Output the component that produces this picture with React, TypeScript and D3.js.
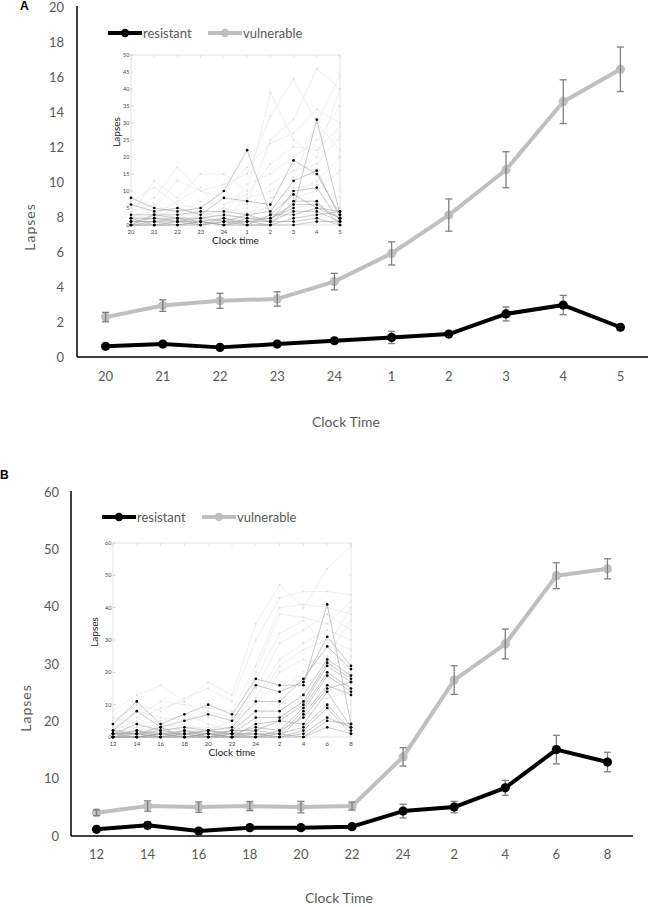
import React from "react";
import * as d3 from "d3";

// ---------- Panel A data ----------
const TIMES_A = ["20", "21", "22", "23", "24", "1", "2", "3", "4", "5"];
const RES_A_MEAN = [0.61, 0.74, 0.55, 0.74, 0.93, 1.12, 1.31, 2.46, 2.97, 1.7];
const RES_A_SE = [0.1, 0.1, 0.08, 0.1, 0.12, 0.35, 0.12, 0.4, 0.55, 0.1];
const VUL_A_MEAN = [2.28, 2.94, 3.21, 3.32, 4.31, 5.92, 8.11, 10.7, 14.59, 16.44];
const VUL_A_SE = [0.27, 0.33, 0.43, 0.41, 0.47, 0.66, 0.92, 1.03, 1.25, 1.27];
const Y_TICKS_A = [0, 2, 4, 6, 8, 10, 12, 14, 16, 18, 20];

// Inset A: individual subjects
const INSET_A_RES = [
  [8, 5, 4, 5, 10, 22, 3, 9, 5, 4],
  [6, 4, 5, 3, 8, 7, 6, 19, 15, 3],
  [3, 3, 3, 4, 4, 3, 4, 13, 16, 2],
  [2, 2, 2, 2, 3, 2, 2, 5, 31, 3],
  [1, 1, 1, 1, 2, 1, 1, 10, 11, 1],
  [0, 0, 0, 0, 1, 0, 0, 7, 7, 0],
  [1, 2, 1, 2, 1, 1, 2, 6, 6, 2],
  [0, 1, 0, 1, 0, 2, 1, 4, 4, 1],
  [2, 0, 1, 0, 2, 0, 3, 3, 5, 2],
  [0, 3, 2, 1, 0, 1, 0, 2, 3, 4],
  [1, 1, 2, 0, 1, 3, 1, 1, 2, 0],
  [0, 0, 0, 1, 0, 0, 0, 0, 1, 1],
];
const INSET_A_VUL = [
  [3, 13, 8, 15, 15, 10, 39, 25, 20, 40],
  [5, 8, 17, 10, 12, 15, 32, 43, 30, 44],
  [2, 5, 13, 10, 8, 6, 25, 31, 46, 40],
  [7, 11, 6, 5, 10, 17, 24, 27, 34, 30],
  [1, 3, 7, 11, 3, 12, 15, 20, 25, 35],
  [4, 6, 3, 7, 6, 9, 18, 23, 22, 29],
  [2, 2, 5, 3, 4, 5, 12, 16, 18, 26],
  [3, 4, 2, 4, 2, 8, 10, 14, 30, 22],
  [1, 1, 2, 2, 5, 3, 8, 9, 13, 20],
  [0, 2, 1, 1, 2, 4, 5, 8, 10, 16],
  [2, 3, 4, 2, 3, 2, 6, 11, 12, 8],
  [1, 0, 1, 3, 1, 1, 3, 5, 6, 5],
];
const INSET_Y_TICKS_A = [0, 5, 10, 15, 20, 25, 30, 35, 40, 45, 50];

// ---------- Panel B data ----------
const TIMES_B = ["12", "14", "16", "18", "20", "22", "24", "2", "4", "6", "8"];
const RES_B_MEAN = [1.16, 1.86, 0.87, 1.45, 1.45, 1.62, 4.35, 5.04, 8.4, 15.07, 12.9];
const RES_B_SE = [0.4, 0.6, 0.4, 0.5, 0.5, 0.4, 1.2, 1.0, 1.3, 2.5, 1.7];
const VUL_B_MEAN = [4.06, 5.22, 5.04, 5.22, 5.04, 5.22, 13.8, 27.2, 33.5, 45.4, 46.6];
const VUL_B_SE = [0.5, 0.9, 0.9, 0.8, 1.0, 0.7, 1.6, 2.5, 2.6, 2.25, 1.75];
const Y_TICKS_B = [0, 10, 20, 30, 40, 50, 60];

const INSET_B_RES = [
  [4, 11, 4, 7, 10, 7, 18, 16, 16, 41, 4],
  [2, 8, 3, 5, 7, 5, 16, 14, 17, 31, 22],
  [1, 4, 2, 3, 2, 3, 11, 11, 18, 28, 21],
  [0, 2, 1, 2, 1, 2, 8, 8, 13, 24, 19],
  [1, 1, 0, 1, 0, 1, 6, 6, 11, 23, 18],
  [0, 0, 1, 0, 1, 0, 4, 5, 10, 22, 17],
  [2, 1, 2, 1, 2, 1, 3, 2, 9, 20, 15],
  [1, 2, 0, 2, 0, 2, 2, 1, 8, 19, 14],
  [0, 1, 3, 0, 1, 0, 1, 0, 7, 16, 13],
  [1, 0, 1, 1, 2, 1, 0, 2, 6, 15, 17],
  [0, 0, 0, 0, 0, 0, 2, 5, 4, 14, 3],
  [1, 1, 1, 1, 1, 1, 1, 1, 3, 10, 2],
  [0, 0, 0, 0, 0, 0, 0, 0, 2, 9, 1],
  [0, 0, 1, 0, 0, 1, 1, 0, 1, 6, 3],
  [1, 1, 0, 1, 0, 0, 0, 1, 0, 5, 4],
  [0, 0, 0, 0, 1, 0, 0, 0, 0, 3, 1],
];
const INSET_B_VUL = [
  [8, 13, 16, 11, 17, 13, 35, 47, 40, 52, 59],
  [5, 10, 8, 12, 15, 11, 30, 43, 45, 45, 44],
  [3, 6, 11, 10, 9, 8, 22, 40, 41, 40, 38],
  [2, 5, 9, 11, 6, 4, 20, 38, 37, 35, 42],
  [6, 4, 5, 7, 4, 2, 18, 32, 36, 28, 40],
  [1, 3, 4, 3, 3, 3, 15, 29, 33, 38, 33],
  [4, 8, 6, 5, 8, 6, 12, 24, 29, 33, 30],
  [2, 2, 3, 2, 2, 5, 10, 22, 27, 30, 27],
  [0, 1, 2, 1, 1, 1, 8, 20, 24, 22, 25],
  [3, 3, 1, 4, 2, 3, 5, 14, 20, 25, 36],
  [1, 0, 0, 0, 0, 0, 4, 10, 15, 19, 20],
  [2, 1, 2, 3, 1, 2, 2, 6, 11, 12, 14],
];
const INSET_Y_TICKS_B = [0, 10, 20, 30, 40, 50, 60];

const LEGEND_LABELS = ["resistant", "vulnerable"];

const FONT = "Lato, 'Open Sans', sans-serif";
const TXT = "#595959";
const VUL_COLOR = "#bfbfbf";
const RES_COLOR = "#000000";
const ERR_COLOR = "#7f7f7f";

type InsetProps = {
  times: string[];
  res: number[][];
  vul: number[][];
  yTicks: number[];
  x0: number;
  x1: number;
  yTop: number;
  yBot: number;
  lapsesX: number;
};

function Inset({ times, res, vul, yTicks, x0, x1, yTop, yBot, lapsesX }: InsetProps) {
  const x = d3.scalePoint<string>().domain(times).range([x0, x1]).padding(0);
  const yMax = yTicks[yTicks.length - 1];
  const y = d3.scaleLinear().domain([0, yMax]).range([yBot, yTop]);
  const line = d3
    .line<number>()
    .x((_, i) => x(times[i]) as number)
    .y((v) => y(v));
  return (
    <g>
      <rect x={x0} y={yTop} width={x1 - x0} height={yBot - yTop} fill="#fff" stroke="#d6d6d6" strokeWidth={0.7} />
      {yTicks.map((t) => (
        <g key={"yt" + t}>
          <line x1={x0} x2={x0 + 2.5} y1={y(t)} y2={y(t)} stroke="#bbb" strokeWidth={0.6} />
          <line x1={x1} x2={x1 - 2.5} y1={y(t)} y2={y(t)} stroke="#ddd" strokeWidth={0.6} />
          <text x={x0 - 1.5} y={y(t) + 2} fontSize={5.5} fill="#444" textAnchor="end" fontFamily={FONT}>
            {t}
          </text>
        </g>
      ))}
      {times.map((t) => (
        <g key={"xt" + t}>
          <line x1={x(t)} x2={x(t)} y1={yTop} y2={yTop + 2.5} stroke="#ccc" strokeWidth={0.6} />
          <line x1={x(t)} x2={x(t)} y1={yBot} y2={yBot - 2.5} stroke="#ccc" strokeWidth={0.6} />
          <text x={x(t)} y={yBot + 9} fontSize={6} fill="#444" textAnchor="middle" fontFamily={FONT}>
            {t}
          </text>
        </g>
      ))}
      {vul.map((s, i) => (
        <g key={"v" + i}>
          <path d={line(s) || ""} fill="none" stroke="#e9e9e9" strokeWidth={0.7} />
          {s.map((v, j) => (
            <circle key={j} cx={x(times[j])} cy={y(v)} r={1} fill="#dedede" />
          ))}
        </g>
      ))}
      {res.map((s, i) => (
        <path key={"rl" + i} d={line(s) || ""} fill="none" stroke="#a3a3a3" strokeWidth={0.6} />
      ))}
      {res.map((s, i) => (
        <g key={"rd" + i}>
          {s.map((v, j) => (
            <circle key={j} cx={x(times[j])} cy={y(v)} r={1.35} fill="#000" />
          ))}
        </g>
      ))}
      <text x={(x0 + x1) / 2} y={yBot + 19} fontSize={10} fill="#222" textAnchor="middle" fontFamily={FONT}>
        Clock time
      </text>
      <text
        transform={`translate(${lapsesX},${(yTop + yBot) / 2 - 8}) rotate(-90)`}
        fontSize={10}
        fill="#222"
        textAnchor="middle"
        fontFamily={FONT}
      >
        Lapses
      </text>
    </g>
  );
}

type PanelProps = {
  letter: string;
  letterX: number;
  letterY: number;
  times: string[];
  resMean: number[];
  resSE: number[];
  vulMean: number[];
  vulSE: number[];
  yTicks: number[];
  axisX: number;
  axisXEnd: number;
  y0: number;
  yTopPx: number;
  tickLabelRight: number;
  xLabelY: number;
  titleX: number;
  titleY: number;
  lapsesX: number;
  lapsesY: number;
  legendX: number;
  legendY: number;
  inset: InsetProps;
};

function Panel(p: PanelProps) {
  const x = d3.scalePoint<string>().domain(p.times).range([p.axisX, p.axisXEnd]).padding(0.5);
  const yMax = p.yTicks[p.yTicks.length - 1];
  const y = d3.scaleLinear().domain([0, yMax]).range([p.y0, p.yTopPx]);
  const line = d3
    .line<number>()
    .x((_, i) => x(p.times[i]) as number)
    .y((v) => y(v));
  const series = [
    { mean: p.vulMean, se: p.vulSE, color: VUL_COLOR, barsOnTop: true },
    { mean: p.resMean, se: p.resSE, color: RES_COLOR, barsOnTop: false },
  ];
  const legendItems = [
    { label: LEGEND_LABELS[0], color: RES_COLOR, dx: 0 },
    { label: LEGEND_LABELS[1], color: VUL_COLOR, dx: 100 },
  ];
  const errBars = (mean: number[], se: number[]) =>
    mean.map((v, j) => {
      const cx = x(p.times[j]) as number;
      const yt = y(v + se[j]);
      const yb = y(v - se[j]);
      return (
        <g key={"eb" + j} stroke={ERR_COLOR} strokeWidth={1.3}>
          <line x1={cx} x2={cx} y1={yt} y2={yb} />
          <line x1={cx - 3.5} x2={cx + 3.5} y1={yt} y2={yt} />
          <line x1={cx - 3.5} x2={cx + 3.5} y1={yb} y2={yb} />
        </g>
      );
    });
  return (
    <g>
      <text x={p.letterX} y={p.letterY} fontSize={12} fontWeight="bold" fill="#000" fontFamily="Arial, 'Liberation Sans', sans-serif">
        {p.letter}
      </text>
      {/* axes */}
      <line x1={p.axisX} x2={p.axisX} y1={p.y0} y2={p.yTopPx - 1} stroke="#000" strokeWidth={1.5} />
      <line x1={p.axisX} x2={p.axisXEnd} y1={p.y0} y2={p.y0} stroke="#000" strokeWidth={1.5} />
      {p.yTicks.map((t) => (
        <text key={t} x={p.tickLabelRight} y={y(t) + 4.5} fontSize={13} fill={TXT} textAnchor="end" fontFamily={FONT}>
          {t}
        </text>
      ))}
      {p.times.map((t) => (
        <text key={t} x={x(t)} y={p.xLabelY} fontSize={13} fill={TXT} textAnchor="middle" fontFamily={FONT}>
          {t}
        </text>
      ))}
      <text x={p.titleX} y={p.titleY} fontSize={14} fill={TXT} textAnchor="middle" fontFamily={FONT}>
        Clock Time
      </text>
      <text
        transform={`translate(${p.lapsesX},${p.lapsesY}) rotate(-90)`}
        fontSize={14}
        fill={TXT}
        textAnchor="middle"
        letterSpacing={1}
        fontFamily={FONT}
      >
        Lapses
      </text>
      {/* legend */}
      {legendItems.map((it) => (
        <g key={it.label}>
          <line
            x1={p.legendX + it.dx}
            x2={p.legendX + it.dx + 34}
            y1={p.legendY}
            y2={p.legendY}
            stroke={it.color}
            strokeWidth={4}
          />
          <circle cx={p.legendX + it.dx + 17} cy={p.legendY} r={4.2} fill={it.color} />
          <text x={p.legendX + it.dx + 35} y={p.legendY + 4.5} fontSize={13} fill={TXT} fontFamily={FONT}>
            {it.label}
          </text>
        </g>
      ))}
      <Inset {...p.inset} />
      {/* series */}
      {series.map((s, i) => (
        <g key={"s" + i}>
          {!s.barsOnTop && errBars(s.mean, s.se)}
          <path d={line(s.mean) || ""} fill="none" stroke={s.color} strokeWidth={4} strokeLinejoin="round" />
          {s.mean.map((v, j) => (
            <circle key={j} cx={x(p.times[j])} cy={y(v)} r={4.6} fill={s.color} />
          ))}
          {s.barsOnTop && errBars(s.mean, s.se)}
        </g>
      ))}
    </g>
  );
}

export default function App() {
  return (
    <svg
      width={648}
      height={907}
      style={{ position: "absolute", left: 0, top: 0, background: "#fff" }}
      viewBox="0 0 648 907"
    >
      <rect x={0} y={0} width={648} height={907} fill="#fff" />
      <Panel
        letter="A"
        letterX={20}
        letterY={10}
        times={TIMES_A}
        resMean={RES_A_MEAN}
        resSE={RES_A_SE}
        vulMean={VUL_A_MEAN}
        vulSE={VUL_A_SE}
        yTicks={Y_TICKS_A}
        axisX={77}
        axisXEnd={649}
        y0={357}
        yTopPx={7}
        tickLabelRight={64}
        xLabelY={381}
        titleX={346}
        titleY={427}
        lapsesX={35}
        lapsesY={227}
        legendX={108}
        legendY={33}
        inset={{
          times: TIMES_A,
          res: INSET_A_RES,
          vul: INSET_A_VUL,
          yTicks: INSET_Y_TICKS_A,
          x0: 131,
          x1: 340,
          yTop: 55,
          yBot: 225,
          lapsesX: 120,
        }}
      />
      <Panel
        letter="B"
        letterX={0}
        letterY={479}
        times={TIMES_B}
        resMean={RES_B_MEAN}
        resSE={RES_B_SE}
        vulMean={VUL_B_MEAN}
        vulSE={VUL_B_SE}
        yTicks={Y_TICKS_B}
        axisX={71}
        axisXEnd={633}
        y0={836}
        yTopPx={492}
        tickLabelRight={59}
        xLabelY={859}
        titleX={339}
        titleY={903}
        lapsesX={31}
        lapsesY={708}
        legendX={102}
        legendY={517}
        inset={{
          times: TIMES_B,
          res: INSET_B_RES,
          vul: INSET_B_VUL,
          yTicks: INSET_Y_TICKS_B,
          x0: 113,
          x1: 351,
          yTop: 543,
          yBot: 737,
          lapsesX: 98,
        }}
      />
    </svg>
  );
}
